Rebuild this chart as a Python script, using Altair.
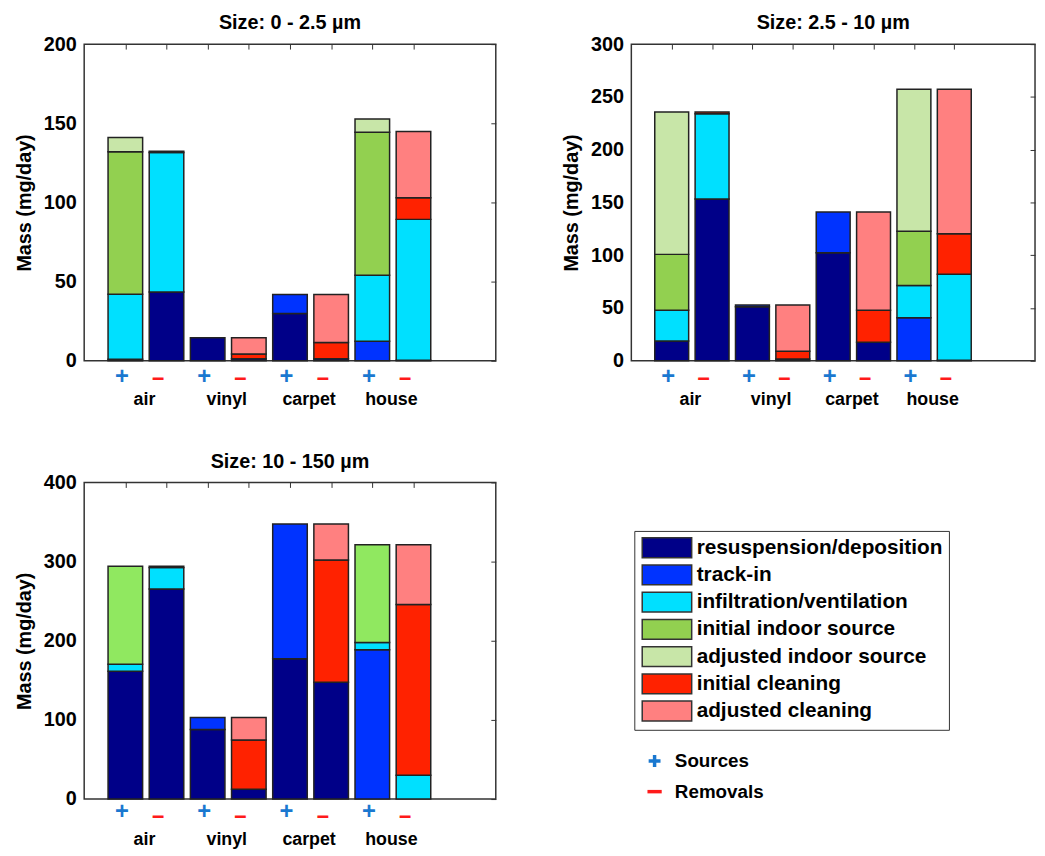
import altair as alt
import pandas as pd

# ---------------- data ----------------
groups = ["air", "vinyl", "carpet", "house"]
categories = [
    "resuspension/deposition",
    "track-in",
    "infiltration/ventilation",
    "initial indoor source",
    "adjusted indoor source",
    "initial cleaning",
    "adjusted cleaning",
]
coarse_indoor_key = "indoor source (10 - 150 µm)"
colors = ["#000088", "#0033ff", "#00e0ff", "#92d050", "#c8e6a8", "#ff2200", "#ff8080"]
coarse_indoor_color = "#90e860"

titles = ["Size: 0 - 2.5 µm", "Size: 2.5 - 10  µm", "Size: 10 - 150 µm"]
ymaxes = [200, 300, 400]
ysteps = [50, 50, 100]

# bars in order: air+, air-, vinyl+, vinyl-, carpet+, carpet-, house+, house-
s1_resusp = [1.0, 43.5, 14.6, 1.2, 29.9, 1.2, 0.0, 0.3]
s1_track = [0, 0, 0, 0, 11.9, 0, 12.3, 0]
s1_infil = [41.0, 88.0, 0, 0, 0, 0, 41.7, 89.0]
s1_indoor = [90.0, 0, 0, 0, 0, 0, 90.4, 0]
s1_indoor_adj = [9.0, 0, 0, 0, 0, 0, 8.3, 0]
s1_clean = [0, 0.8, 0, 3.0, 0, 10.3, 0, 13.6]
s1_clean_adj = [0, 0, 0, 10.4, 0, 30.3, 0, 41.9]

s2_resusp = [18.8, 153.3, 51.2, 1.6, 102.4, 17.6, 0, 0.5]
s2_track = [0, 0, 1.6, 0, 38.6, 0, 40.8, 0]
s2_infil = [29.0, 80.7, 0, 0, 0, 0, 30.5, 81.5]
s2_indoor = [53.0, 0, 0, 0, 0, 0, 51.5, 0]
s2_indoor_adj = [134.8, 0, 0, 0, 0, 0, 134.5, 0]
s2_clean = [0, 1.6, 0, 7.5, 0, 30.2, 0, 38.3]
s2_clean_adj = [0, 0, 0, 43.7, 0, 93.2, 0, 137.0]

s3_resusp = [161.4, 265.3, 88.0, 12.5, 177.3, 147.7, 0, 0]
s3_track = [0, 0, 15.0, 0, 170.1, 0, 188.5, 0]
s3_infil = [8.8, 27.1, 0, 0, 0, 0, 9.2, 30.0]
s3_indoor = [123.8, 0, 0, 0, 0, 0, 123.5, 0]
s3_indoor_adj = [0, 0, 0, 0, 0, 0, 0, 0]
s3_clean = [0, 1.6, 0, 62.2, 0, 154.3, 0, 215.7]
s3_clean_adj = [0, 0, 0, 28.3, 0, 45.4, 0, 75.5]

panels = [
    [s1_resusp, s1_track, s1_infil, s1_indoor, s1_indoor_adj, s1_clean, s1_clean_adj],
    [s2_resusp, s2_track, s2_infil, s2_indoor, s2_indoor_adj, s2_clean, s2_clean_adj],
    [s3_resusp, s3_track, s3_infil, s3_indoor, s3_indoor_adj, s3_clean, s3_clean_adj],
]
kinds = ["Sources", "Removals"]

# ---------------- helpers ----------------
FONT = "Liberation Sans"
BLUE = "#1a78d0"
RED = "#ff1a1a"
HALF = 0.42
n_bars = 2 * len(groups)
bar_pos = list(range(1, n_bars + 1))
group_pos = [2 * i + 1.5 for i in range(len(groups))]

color_domain = categories + [coarse_indoor_key]
color_range = colors + [coarse_indoor_color]


def build_df(series, coarse):
    rows = []
    for b in range(n_bars):
        base = 0.0
        for ci, cat in enumerate(categories):
            v = series[ci][b]
            if v <= 0:
                continue
            key = cat
            if coarse and cat == "initial indoor source":
                key = coarse_indoor_key
            rows.append(dict(pos=b + 1, xl=b + 1 - HALF, xr=b + 1 + HALF,
                             y0=base, y1=base + v, category=key, ci=ci))
            base += v
    return pd.DataFrame(rows)


name_expr = " : ".join(
    f"datum.value == {p} ? '{g}'" for p, g in zip(group_pos, groups)
) + " : ''"


def panel(idx, width, pads):
    plus_pad, minus_pad, name_pad = pads
    series = panels[idx]
    df = build_df(series, idx == 2)
    ymax = ymaxes[idx]
    yt = list(range(0, ymax + 1, ysteps[idx]))
    xs = alt.Scale(domain=[0, 10], nice=False, zero=False)
    ys = alt.Scale(domain=[0, ymax], nice=False)

    if idx == 2:
        legend = alt.Legend(
            orient="none", legendX=556, legendY=49, title=None,
            values=categories,
            symbolType="M-2.5,-1H2.5V1H-2.5Z", symbolSize=400,
            symbolStrokeColor="#333", symbolStrokeWidth=1.5,
            symbolOffset=16, labelOffset=19,
            labelFont=FONT, labelFontSize=21, labelFontWeight="bold",
            labelColor="black", labelLimit=400,
            rowPadding=1.5, padding=6, strokeColor="#333",
        )
    else:
        legend = None

    sign_axis = alt.Axis(
        orient="bottom", values=bar_pos, title=None, grid=False,
        ticks=False, domain=False, labelOverlap=False, labelFlush=False,
        labelBound=False, minExtent=0,
        labelExpr="datum.value % 2 == 1 ? '+' : '\u2212'",
        labelFont=FONT, labelFontWeight="bold",
        labelFontSize={"condition": {"test": "datum.value % 2 == 1", "value": 24}, "value": 22},
        labelColor={"condition": {"test": "datum.value % 2 == 1", "value": BLUE}, "value": RED},
        labelPadding={"condition": {"test": "datum.value % 2 == 1", "value": plus_pad}, "value": minus_pad},
        labelOffset={"condition": {"test": "datum.value % 2 == 1", "value": -4}, "value": -9},
    )
    y_axis = alt.Axis(
        orient="left", values=yt, title="Mass (mg/day)", grid=False,
        ticks=False, domain=False, labelFlush=False, labelOverlap=False,
        labelFont=FONT, labelFontSize=20, labelFontWeight="bold",
        labelColor="black", labelPadding=8,
        titleFont=FONT, titleFontSize=20, titleFontWeight="bold",
        titleColor="black", titlePadding=9,
    )

    bars = alt.Chart(df).mark_bar(stroke="#222", strokeWidth=1.5).encode(
        x=alt.X("xl:Q", scale=xs, axis=sign_axis),
        x2="xr:Q",
        y=alt.Y("y1:Q", scale=ys, axis=y_axis),
        y2="y0:Q",
        color=alt.Color("category:N",
                        scale=alt.Scale(domain=color_domain, range=color_range),
                        legend=legend),
    )

    gdf = pd.DataFrame({"gpos": group_pos, "group": groups})
    names = alt.Chart(gdf).mark_text(opacity=0).encode(
        x=alt.X("gpos:Q", scale=xs, axis=alt.Axis(
            orient="bottom", values=group_pos, title=None, grid=False,
            ticks=False, domain=False, labelOverlap=False, labelFlush=False,
            labelBound=False, labelExpr=name_expr, minExtent=0,
            labelFont=FONT, labelFontWeight="bold", labelFontSize=18,
            labelColor="black", labelPadding=name_pad, labelOffset=-2)),
        text="group:N",
    )

    frame_ticks = alt.Chart(df).mark_point(opacity=0).encode(
        x=alt.X("pos:Q", scale=xs, axis=alt.Axis(
            orient="top", values=bar_pos, title=None, grid=False,
            labels=False, domain=False, ticks=True, tickSize=5, offset=-5,
            minExtent=0, maxExtent=0,
            tickColor="#333", tickWidth=1)),
        y=alt.Y("y1:Q", scale=ys, axis=alt.Axis(
            orient="right", values=yt, title=None, grid=False,
            labels=False, domain=False, ticks=True, tickSize=5, offset=-5,
            minExtent=0, maxExtent=0,
            tickColor="#333", tickWidth=1)),
    )

    layers = [bars, names, frame_ticks]

    if idx == 2:
        kdf = pd.DataFrame({"kind": kinds})
        sign_legend = alt.Legend(
            orient="none", legendX=567, legendY=272, title=None,
            symbolSize=144, symbolStrokeWidth=3.5, symbolOpacity=1,
            labelFont=FONT, labelFontSize=19, labelFontWeight="bold",
            labelColor="black", labelOffset=11, rowPadding=8, padding=0)
        signs = alt.Chart(kdf).mark_point(opacity=0, filled=False, strokeWidth=3.5).encode(
            shape=alt.Shape("kind:N", scale=alt.Scale(
                domain=kinds, range=["M-1,0H1M0,-1V1", "M-1.2,0H1.2"]),
                legend=sign_legend),
            stroke=alt.Stroke("kind:N", scale=alt.Scale(domain=kinds, range=[BLUE, RED]),
                              legend=sign_legend),
        )
        layers.append(signs)

    return alt.layer(*layers).resolve_axis(x="independent", y="independent").properties(
        width=width, height=320,
        title=alt.TitleParams(text=titles[idx], font=FONT, fontSize=20,
                              fontWeight="bold", color="black", offset=-15,
                              baseline="alphabetic", anchor="middle"),
    )


p1 = panel(0, 416, (4, 8, 30))
p2 = panel(1, 408, (4, 8, 30))
p3 = panel(2, 416, (1, 8, 32))

chart = alt.concat(
    p1, p2, p3, columns=2, spacing={"row": 123, "column": 137}, bounds="flush"
).resolve_scale(
    color="independent", shape="independent", stroke="independent"
).resolve_legend(
    color="independent", shape="independent", stroke="independent"
).properties(
    padding={"left": 5, "top": 0, "right": 0, "bottom": 0}
).configure(font=FONT).configure_view(stroke="#333", strokeWidth=1.5)

chart.save("out.html", embed_options={"renderer": "svg", "actions": False})
